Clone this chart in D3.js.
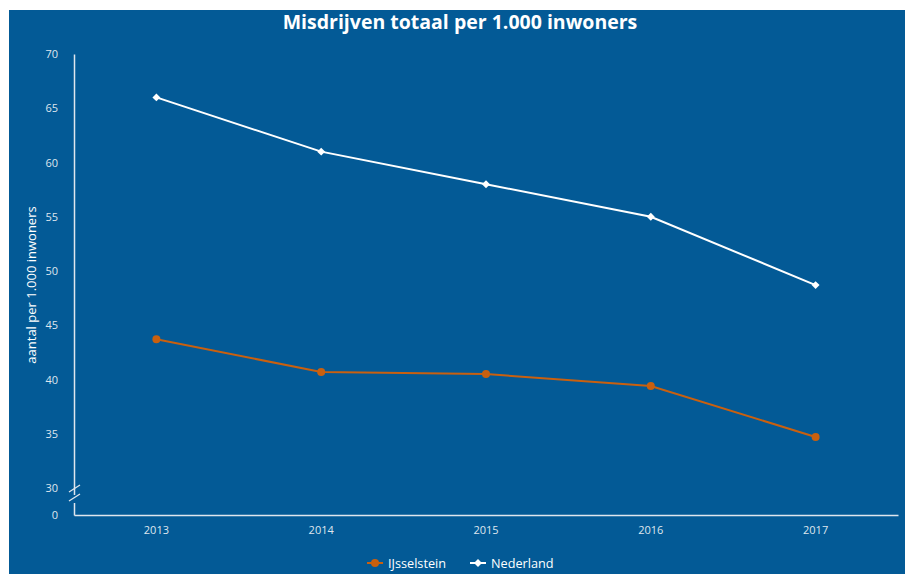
<!DOCTYPE html>
<html>
<head>
<meta charset="utf-8">
<script src="https://d3js.org/d3.v7.min.js"></script>
<style>
  body { margin: 0; background: #fff; }
  text { font-family: "Open Sans", sans-serif; }
</style>
</head>
<body>
<div id="chart"></div>
<script>
// chart data
var years = ["2013", "2014", "2015", "2016", "2017"];
var ijsselstein = [43.7, 40.7, 40.5, 39.4, 34.7];
var nederland = [66.0, 61.0, 58.0, 55.0, 48.7];
var yTicks = [0, 30, 35, 40, 45, 50, 55, 60, 65, 70];
var seriesNames = ["IJsselstein", "Nederland"];

var width = 905, height = 574;
var bg = "#035a96";
var orange = "#c9600f";
var axisCol = "#dfe6ee";

var svg = d3.select("#chart").append("svg")
  .attr("width", width)
  .attr("height", height);

svg.append("rect")
  .attr("x", 9).attr("y", 10)
  .attr("width", width - 9).attr("height", height - 10)
  .attr("fill", bg);

// scales (broken axis: 0 .. 30 squeezed)
var xs = d3.scaleBand().domain(years).range([74, 898]);
var ys = d3.scaleLinear().domain([0, 30, 70]).range([515, 488, 54]);

// title
svg.append("text")
  .attr("x", 460).attr("y", 29)
  .attr("text-anchor", "middle")
  .attr("fill", "#fff")
  .style("font-size", "19.5px")
  .style("font-weight", "bold")
  .text("Misdrijven totaal per 1.000 inwoners");

// y axis
var yAxis = svg.append("g")
  .attr("transform", "translate(74,0)")
  .call(d3.axisLeft(ys).tickValues(yTicks).tickSize(0).tickPadding(16));
yAxis.select(".domain").attr("stroke", axisCol).attr("stroke-width", 1.5);
yAxis.selectAll("text").attr("fill", axisCol).style("font-size", "11px");

// x axis
var xAxis = svg.append("g")
  .attr("transform", "translate(0,515)")
  .call(d3.axisBottom(xs).tickSize(0).tickPadding(11));
xAxis.select(".domain").attr("stroke", axisCol).attr("stroke-width", 1.5);
xAxis.selectAll("text").attr("fill", axisCol).style("font-size", "11px");

// break marks on the y axis
svg.append("rect")
  .attr("x", 70).attr("y", 495).attr("width", 10).attr("height", 8)
  .attr("fill", bg);
[0, 9].forEach(function(o) {
  svg.append("line")
    .attr("x1", 69).attr("y1", 501 + o - 9)
    .attr("x2", 80).attr("y2", 494 + o - 9)
    .attr("stroke", axisCol).attr("stroke-width", 1.3);
});

// y label
svg.append("text")
  .attr("transform", "translate(36,285) rotate(-90)")
  .attr("text-anchor", "middle")
  .attr("fill", "#fff")
  .style("font-size", "13px")
  .text("aantal per 1.000 inwoners");

var cx = function(i) { return xs(years[i]) + xs.bandwidth() / 2; };
var line = d3.line()
  .x(function(d, i) { return cx(i); })
  .y(function(d) { return ys(d); });

// IJsselstein
svg.append("path").datum(ijsselstein)
  .attr("fill", "none").attr("stroke", orange).attr("stroke-width", 2)
  .attr("d", line);
svg.selectAll(".dotI").data(ijsselstein).enter().append("circle")
  .attr("cx", function(d, i) { return cx(i); })
  .attr("cy", function(d) { return ys(d); })
  .attr("r", 4).attr("fill", orange);

// Nederland
var diamond = d3.symbol().type(d3.symbolDiamond2).size(40);
svg.append("path").datum(nederland)
  .attr("fill", "none").attr("stroke", "#fff").attr("stroke-width", 2)
  .attr("d", line);
svg.selectAll(".dotN").data(nederland).enter().append("path")
  .attr("transform", function(d, i) { return "translate(" + cx(i) + "," + ys(d) + ")"; })
  .attr("d", diamond).attr("fill", "#fff");

// legend
var legendX = [367, 470];
var legendCol = [orange, "#fff"];
seriesNames.forEach(function(name, i) {
  var g = svg.append("g").attr("transform", "translate(" + legendX[i] + ",563)");
  g.append("line").attr("x1", 0).attr("x2", 16).attr("y1", 0).attr("y2", 0)
    .attr("stroke", legendCol[i]).attr("stroke-width", 2);
  if (i === 0) {
    g.append("circle").attr("cx", 8).attr("cy", 0).attr("r", 4).attr("fill", legendCol[i]);
  } else {
    g.append("path").attr("transform", "translate(8,0)").attr("d", diamond).attr("fill", legendCol[i]);
  }
  g.append("text").attr("x", 21).attr("y", 4.5)
    .attr("fill", "#fff").style("font-size", "12.7px").text(name);
});
</script>
</body>
</html>
